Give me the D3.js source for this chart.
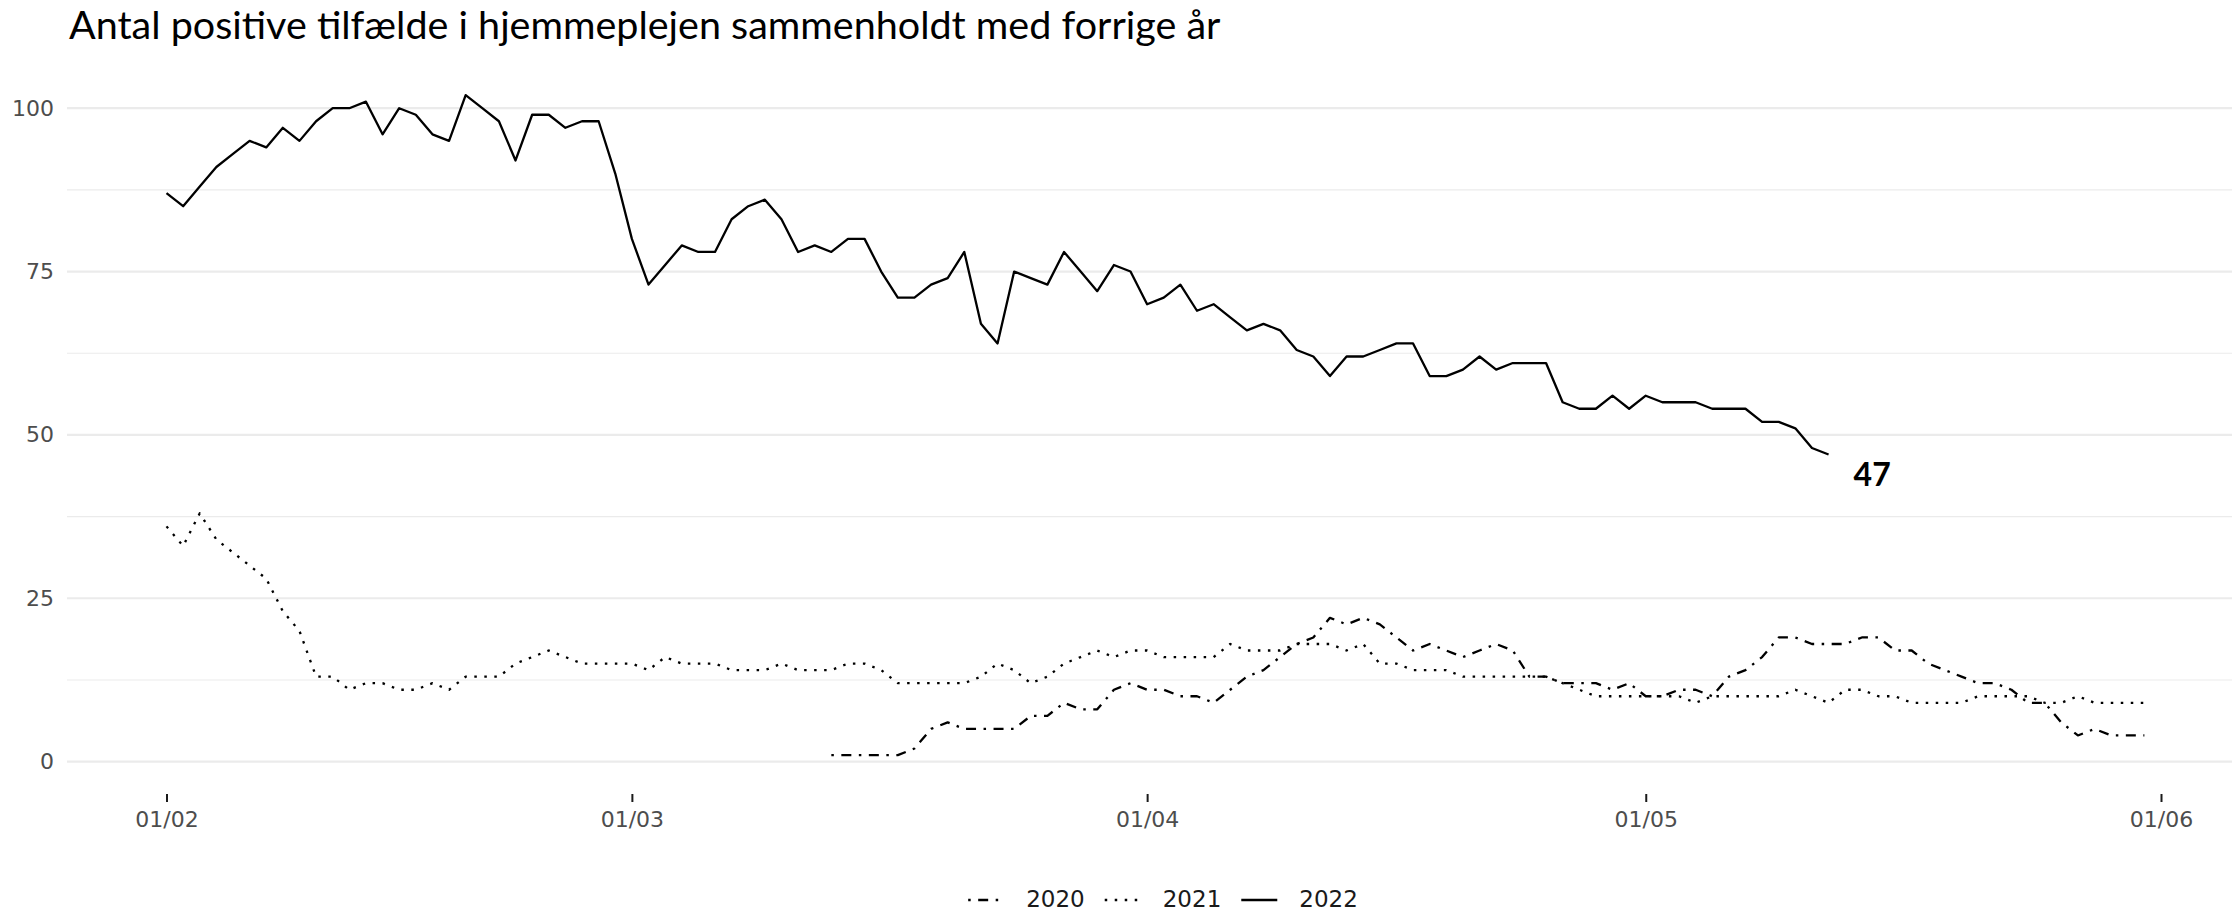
<!DOCTYPE html>
<html>
<head>
<meta charset="utf-8">
<script src="https://cdn.jsdelivr.net/npm/d3@7"></script>
<style>
  body { margin: 0; background: #fff; }
  svg { display: block; }
</style>
</head>
<body>
<svg id="chart" width="2232" height="911"></svg>
<script>
var title = 'Antal positive tilfælde i hjemmeplejen sammenholdt med forrige år';

var years = ['2020', '2021', '2022'];
var startDates = ['2022-03-13', '2022-02-01', '2022-02-01'];

// daily counts, one value per day from the start date
var values2020 = [1,1,1,1,1,2,5,6,5,5,
  5,5,7,7,9,8,8,11,12,11,
  11,10,10,9,11,13,14,16,18,19,
  22,21,22,21,19,17,18,17,16,17,
  18,17,13,13,12,12,12,11,12,10,
  10,11,11,10,13,14,16,19,19,18,
  18,18,19,19,17,17,15,14,13,12,
  12,11,9,9,6,4,5,4,4,4];

var values2021 = [36,33,38,34,32,30,28,23,20,13,
  13,11,12,12,11,11,12,11,13,13,
  13,15,16,17,16,15,15,15,15,14,
  16,15,15,15,14,14,14,15,14,14,
  14,15,15,14,12,12,12,12,12,13,
  15,14,12,13,15,16,17,16,17,17,
  16,16,16,16,18,17,17,17,18,18,
  18,17,18,15,15,14,14,14,13,13,
  13,13,13,13,12,11,10,10,10,10,
  10,10,9,10,10,10,10,10,11,10,
  9,11,11,10,10,9,9,9,9,10,
  10,10,10,9,9,10,9,9,9,9];

var values2022 = [87,85,88,91,93,95,94,97,95,98,
  100,100,101,96,100,99,96,95,102,100,
  98,92,99,99,97,98,98,90,80,73,
  76,79,78,78,83,85,86,83,78,79,
  78,80,80,75,71,71,73,74,78,67,
  64,75,74,73,78,75,72,76,75,70,
  71,73,69,70,68,66,67,66,63,62,
  59,62,62,63,64,64,59,59,60,62,
  60,61,61,61,55,54,54,56,54,56,
  55,55,55,54,54,54,52,52,51,48,
  47];

var xTickDates = ['2022-02-01', '2022-03-01', '2022-04-01', '2022-05-01', '2022-06-01'];
var yTicks = [0, 25, 50, 75, 100];
var yMinorTicks = [12.5, 37.5, 62.5, 87.5];

var allValues = [values2020, values2021, values2022];
var dashes = ['2.5,7.5,10,7.5', '2.5,7.5', null];

var parse = d3.utcParse('%Y-%m-%d');

var series = years.map(function(yr, i) {
  var start = parse(startDates[i]);
  return {
    year: yr,
    dash: dashes[i],
    points: allValues[i].map(function(v, j) {
      return { date: d3.utcDay.offset(start, j), value: v };
    })
  };
});

var svg = d3.select('#chart');
var width = 2232;

var xScale = d3.scaleUtc()
  .domain([parse('2022-02-01'), parse('2022-06-01')])
  .range([166.5, 2161]);

var yScale = d3.scaleLinear()
  .domain([0, 100])
  .range([761.6, 108.2]);

// grid
svg.append('g')
  .selectAll('line')
  .data(yMinorTicks)
  .enter()
  .append('line')
  .attr('x1', 67).attr('x2', width)
  .attr('y1', function(d) { return yScale(d); })
  .attr('y2', function(d) { return yScale(d); })
  .attr('stroke', '#ebebeb')
  .attr('stroke-width', 1.1);

svg.append('g')
  .selectAll('line')
  .data(yTicks)
  .enter()
  .append('line')
  .attr('x1', 67).attr('x2', width)
  .attr('y1', function(d) { return yScale(d); })
  .attr('y2', function(d) { return yScale(d); })
  .attr('stroke', '#ebebeb')
  .attr('stroke-width', 2.2);

// axes
var yAxis = svg.append('g')
  .attr('transform', 'translate(54,0)')
  .call(d3.axisLeft(yScale).tickValues(yTicks).tickSize(0).tickPadding(0));
yAxis.select('.domain').remove();
yAxis.selectAll('text')
  .attr('fill', '#4d4d4d')
  .style('font-family', '"DejaVu Sans", sans-serif')
  .style('font-size', '22px');

var xAxis = svg.append('g')
  .attr('transform', 'translate(0,794)')
  .call(d3.axisBottom(xScale)
    .tickValues(xTickDates.map(parse))
    .tickFormat(d3.utcFormat('%d/%m'))
    .tickSize(8)
    .tickPadding(9));
xAxis.select('.domain').remove();
xAxis.selectAll('.tick line').attr('stroke', '#1a1a1a').attr('stroke-width', 2);
xAxis.selectAll('text')
  .attr('fill', '#4d4d4d')
  .style('font-family', '"DejaVu Sans", sans-serif')
  .style('font-size', '22px');

// lines
var line = d3.line()
  .x(function(d) { return xScale(d.date); })
  .y(function(d) { return yScale(d.value); });

svg.append('g')
  .selectAll('path')
  .data(series)
  .enter()
  .append('path')
  .attr('d', function(d) { return line(d.points); })
  .attr('fill', 'none')
  .attr('stroke', '#000')
  .attr('stroke-width', 2.3)
  .attr('stroke-linejoin', 'round')
  .attr('stroke-dasharray', function(d) { return d.dash; });

// label at the end of the current year
var last = series[2].points[series[2].points.length - 1];
svg.append('text')
  .attr('x', xScale(last.date) + 25)
  .attr('y', yScale(last.value) + 31)
  .attr('font-family', 'Lato, sans-serif')
  .attr('font-weight', 700)
  .attr('font-size', 32)
  .text(last.value);

// title
svg.append('text')
  .attr('x', 69)
  .attr('y', 39)
  .attr('font-family', 'Lato, sans-serif')
  .attr('font-size', 39.5)
  .attr('fill', '#000')
  .text(title);

// legend
var legend = svg.append('g');
var keyW = 36, gap = 22, spacing = 20;
var items = legend.selectAll('g')
  .data(series)
  .enter()
  .append('g');
items.append('line')
  .attr('x1', 0).attr('x2', keyW)
  .attr('y1', 900).attr('y2', 900)
  .attr('stroke', '#000')
  .attr('stroke-width', 2.3)
  .attr('stroke-dasharray', function(d) { return d.dash; });
items.append('text')
  .attr('x', keyW + gap)
  .attr('y', 907)
  .style('font-family', '"DejaVu Sans", sans-serif')
  .style('font-size', '23px')
  .attr('fill', '#1a1a1a')
  .text(function(d) { return d.year; });

var offs = [], total = 0;
items.each(function() {
  var w = keyW + gap + d3.select(this).select('text').node().getComputedTextLength();
  offs.push(total);
  total += w + spacing;
});
total -= spacing;
var lx = 1163 - total / 2;
items.attr('transform', function(d, i) { return 'translate(' + (lx + offs[i]) + ',0)'; });
</script>
</body>
</html>
